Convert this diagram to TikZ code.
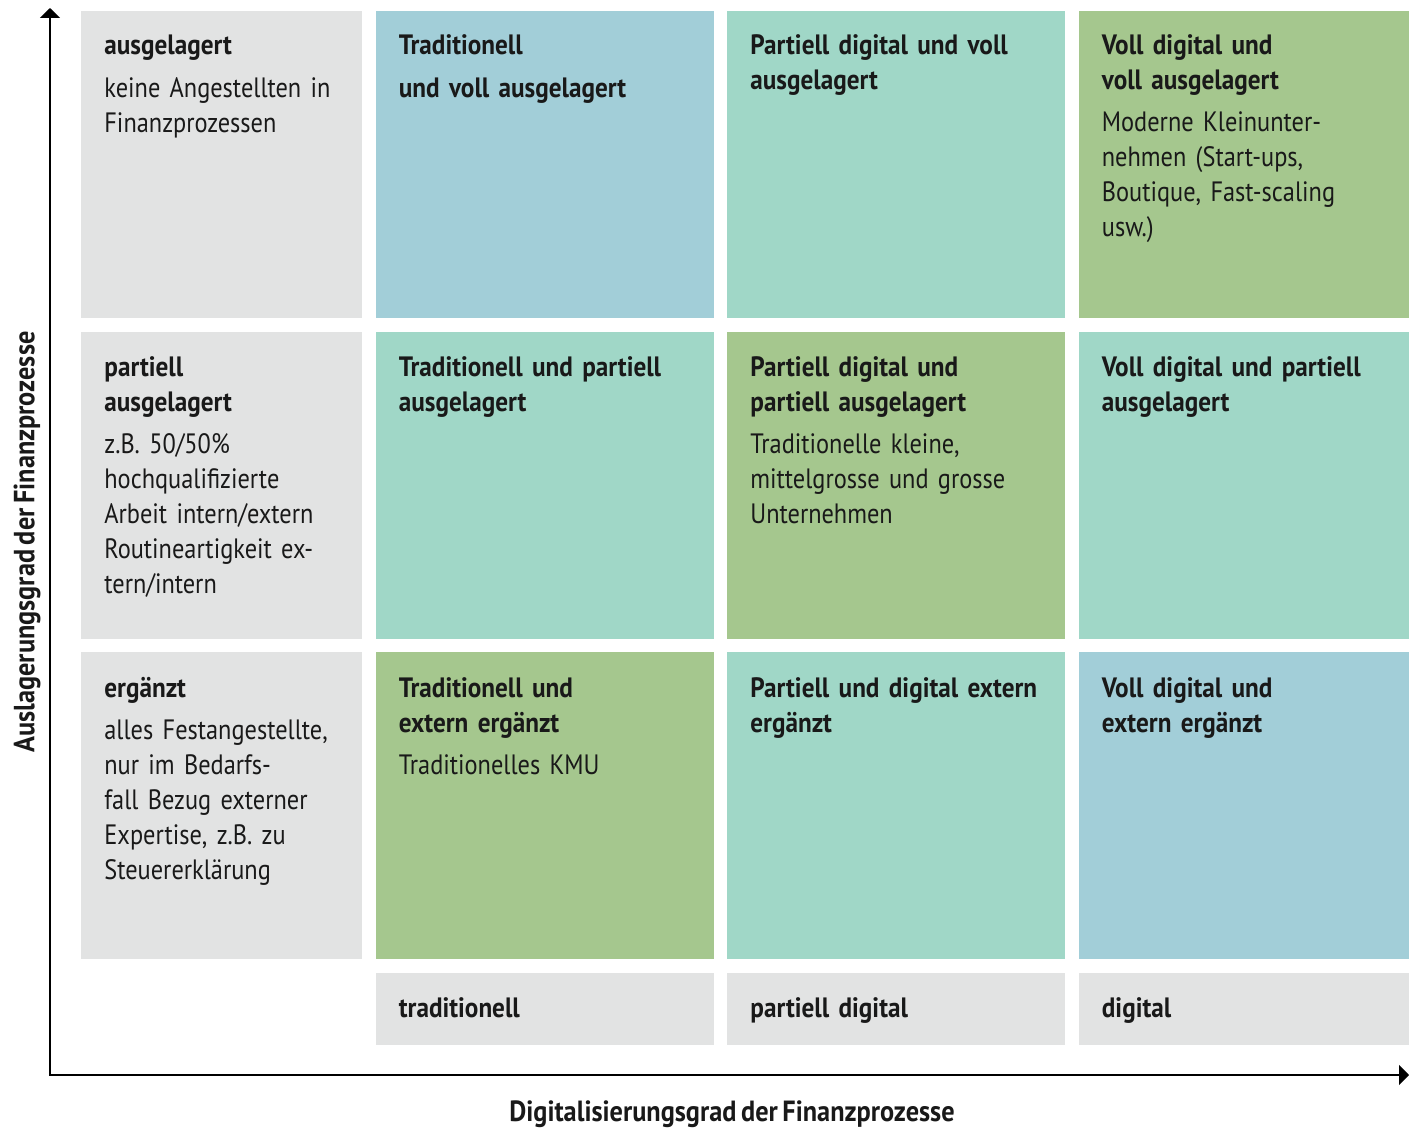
\documentclass[tikz,border=0pt]{standalone}
\usepackage{fontspec}
\setmainfont[FakeStretch=0.87, WordSpace=0.7, BoldFeatures={FakeStretch=0.9}]{PT Sans}
\usepackage{xcolor}
\usepackage{tikz}
\usetikzlibrary{arrows.meta, positioning}

\definecolor{cellgrey}{HTML}{E2E3E3}
\definecolor{cellblue}{HTML}{A2CED8}
\definecolor{cellteal}{HTML}{A0D7C7}
\definecolor{cellgreen}{HTML}{A5C78E}

\begin{document}
\begin{tikzpicture}[
    x=0.5pt, y=-0.5pt,
    node distance=6.75pt and 6.75pt,
    cell/.style={rectangle, inner sep=0pt, outer sep=0pt, minimum width=169pt, minimum height=153.5pt},
    leftcell/.style={cell, fill=cellgrey, minimum width=140.5pt},
    footcell/.style={cell, fill=cellgrey, minimum height=36pt},
    txt/.style={anchor=base west, inner sep=0pt, align=left, text width=150pt,
        font=\fontsize{14}{17.5}\selectfont, text=black!90},
    axislabel/.style={inner sep=0pt, font=\fontsize{14.6}{18}\selectfont\bfseries, text=black!90},
    axis/.style={draw, line width=1pt, {Triangle[width=10pt,length=5pt]}-{Triangle[width=10pt,length=5pt]}}
]
    \useasboundingbox (0,0) rectangle (1409,1129);

    % Cells
    \node [leftcell, anchor=north west] (l1) at (81,11) {};
    \node [cell, fill=cellblue, right=of l1] (c11) {};
    \node [cell, fill=cellteal, right=of c11] (c12) {};
    \node [cell, fill=cellgreen, right=of c12] (c13) {};

    \node [leftcell, below=of l1] (l2) {};
    \node [cell, fill=cellteal, right=of l2] (c21) {};
    \node [cell, fill=cellgreen, right=of c21] (c22) {};
    \node [cell, fill=cellteal, right=of c22] (c23) {};

    \node [leftcell, below=of l2] (l3) {};
    \node [cell, fill=cellgreen, right=of l3] (c31) {};
    \node [cell, fill=cellteal, right=of c31] (c32) {};
    \node [cell, fill=cellblue, right=of c32] (c33) {};

    \node [footcell, below=of c31] (f1) {};
    \node [footcell, below=of c32] (f2) {};
    \node [footcell, below=of c33] (f3) {};

    % Texts
    \node [txt] (tl1) at ([shift={(23,44)}]l1.north west)
        {{\bfseries ausgelagert}\\[3.5pt] keine Angestellten in\\Finanzprozessen};
    \node [txt] (t11) at ([shift={(23,44)}]c11.north west)
        {{\bfseries Traditionell}\\[4pt]{\bfseries und voll ausgelagert}};
    \node [txt] (t12) at ([shift={(23,44)}]c12.north west)
        {{\bfseries Partiell digital und voll\\ausgelagert}};
    \node [txt] (t13) at ([shift={(23,44)}]c13.north west)
        {{\bfseries Voll digital und\\voll ausgelagert}\\[3.5pt]
         Moderne Kleinunter-\\nehmen (Start-ups,\\Boutique, Fast-scaling\\usw.)};

    \node [txt] (tl2) at ([shift={(23,45)}]l2.north west)
        {{\bfseries partiell\\ausgelagert}\\[3.5pt]
         z.B. 50/50\%\\hochqualifizierte\\Arbeit intern/extern\\Routineartigkeit ex-\\tern/intern};
    \node [txt] (t21) at ([shift={(23,45)}]c21.north west)
        {{\bfseries Traditionell und partiell\\ausgelagert}};
    \node [txt] (t22) at ([shift={(23,45)}]c22.north west)
        {{\bfseries Partiell digital und\\partiell ausgelagert}\\[3.5pt]
         Traditionelle kleine,\\mittelgrosse und grosse\\Unternehmen};
    \node [txt] (t23) at ([shift={(23,45)}]c23.north west)
        {{\bfseries Voll digital und partiell\\ausgelagert}};

    \node [txt] (tl3) at ([shift={(23,45)}]l3.north west)
        {{\bfseries ergänzt}\\[3.5pt]
         alles Festangestellte,\\nur im Bedarfs-\\fall Bezug externer\\Expertise, z.B. zu\\Steuererklärung};
    \node [txt] (t31) at ([shift={(23,45)}]c31.north west)
        {{\bfseries Traditionell und\\extern ergänzt}\\[3.5pt] Traditionelles KMU};
    \node [txt] (t32) at ([shift={(23,45)}]c32.north west)
        {{\bfseries Partiell und digital extern\\ergänzt}};
    \node [txt] (t33) at ([shift={(23,45)}]c33.north west)
        {{\bfseries Voll digital und\\extern ergänzt}};

    \node [txt, font=\fontsize{14}{17.5}\selectfont\bfseries] (tf1) at ([shift={(23,45)}]f1.north west) {traditionell};
    \node [txt, font=\fontsize{14}{17.5}\selectfont\bfseries] (tf2) at ([shift={(23,45)}]f2.north west) {partiell digital};
    \node [txt, font=\fontsize{14}{17.5}\selectfont\bfseries] (tf3) at ([shift={(23,45)}]f3.north west) {digital};

    % Axes
    \coordinate (origin) at (50,1075);
    \coordinate (ytip) at (50,8);
    \coordinate (xtip) at (1409,1075);
    \path [axis] (ytip) -- (origin) -- (xtip);

    \node [axislabel, rotate=90] (ylabel) at (27,542) {Auslagerungsgrad der Finanzprozesse};
    \node [axislabel] (xlabel) at (732,1114) {Digitalisierungsgrad der Finanzprozesse};
\end{tikzpicture}
\end{document}
